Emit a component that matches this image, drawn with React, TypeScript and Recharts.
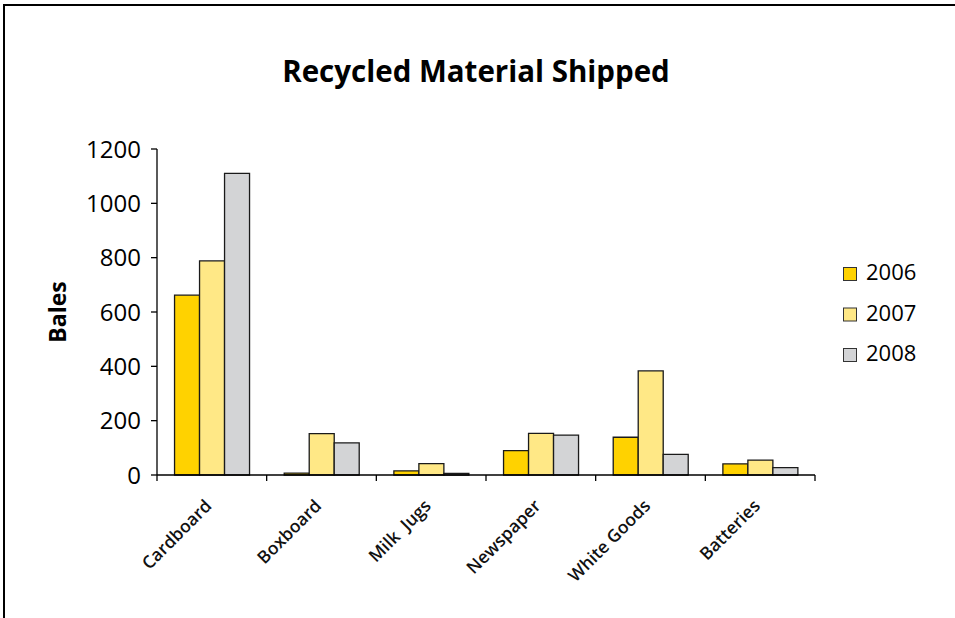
import { BarChart, Bar, XAxis, YAxis } from "recharts";

const categories = ["Cardboard", "Boxboard", "Milk  Jugs", "Newspaper", "White Goods", "Batteries"];
const bales2006 = [662, 7, 15, 90, 139, 41];
const bales2007 = [788, 152, 42, 153, 383, 55];
const bales2008 = [1110, 118, 6, 147, 76, 27];
const yTicks = [0, 200, 400, 600, 800, 1000, 1200];

const seriesList = [
  { key: "y2006", name: "2006", color: "#FFD200" },
  { key: "y2007", name: "2007", color: "#FFE886" },
  { key: "y2008", name: "2008", color: "#D3D4D6" },
];

const data = categories.map((name, i) => ({
  name,
  y2006: bales2006[i],
  y2007: bales2007[i],
  y2008: bales2008[i],
}));

const FONT = "'Open Sans', 'DejaVu Sans', sans-serif";
const CHART_W = 955;
const CHART_H = 618;
const margin = { top: 149, right: 140, bottom: 0, left: 37 };
const Y_AXIS_W = 120;
// fallback for half a category band if the tick payload has no offset
const bandHalf = (CHART_W - margin.left - margin.right - Y_AXIS_W) / categories.length / 2;

const CategoryTick = (props: any) => {
  const { x, y, payload, index } = props;
  const half = payload && payload.offset ? payload.offset : bandHalf;
  const last = index === categories.length - 1;
  const tx = x + 1;
  const ty = y + 32;
  return (
    <g>
      <line x1={x - half} x2={x - half} y1={y} y2={y + 6} stroke="#000" strokeWidth={1.3} />
      {last && <line x1={x + half} x2={x + half} y1={y} y2={y + 6} stroke="#000" strokeWidth={1.3} />}
      <text
        x={tx}
        y={ty}
        textAnchor="end"
        transform={`rotate(-45 ${tx} ${ty})`}
        fontFamily={FONT}
        fontSize={17.5}
        fontWeight={600}
        fill="#111"
        style={{ whiteSpace: "pre" }}
      >
        {payload.value}
      </text>
    </g>
  );
};

const BalesLabel = (props: any) => {
  const { viewBox } = props;
  const cx = viewBox.x + 20;
  const cy = viewBox.y + viewBox.height / 2;
  return (
    <text
      x={cx}
      y={cy}
      textAnchor="middle"
      dominantBaseline="central"
      transform={`rotate(-90 ${cx} ${cy})`}
      fontFamily={FONT}
      fontSize={23}
      fontWeight={700}
      fill="#000"
    >
      Bales
    </text>
  );
};

export default function App() {
  return (
    <div
      style={{
        position: "absolute",
        left: 0,
        top: 0,
        width: CHART_W,
        height: CHART_H,
        overflow: "hidden",
        background: "#fff",
        fontFamily: FONT,
      }}
    >
      <div
        style={{
          position: "absolute",
          left: 3,
          top: 4,
          width: 1000,
          height: 700,
          borderLeft: "2px solid #000",
          borderTop: "2px solid #000",
        }}
      />

      <div style={{ position: "absolute", left: 0, top: 0 }}>
        <BarChart
          width={CHART_W}
          height={CHART_H}
          data={data}
          margin={margin}
          barCategoryGap="16%"
          barGap={0}
        >
          <XAxis
            dataKey="name"
            interval={0}
            height={143}
            axisLine={{ stroke: "#000", strokeWidth: 1.3 }}
            tickLine={false}
            tickSize={0}
            tickMargin={0}
            tick={<CategoryTick />}
          />
          <YAxis
            domain={[0, 1200]}
            ticks={yTicks}
            width={Y_AXIS_W}
            axisLine={{ stroke: "#000", strokeWidth: 1.3 }}
            tickLine={{ stroke: "#000", strokeWidth: 1.3 }}
            tickSize={6}
            tickMargin={10}
            tick={{ fontFamily: FONT, fontSize: 24, fill: "#000" }}
            label={<BalesLabel />}
          />
          {seriesList.map((s) => (
            <Bar
              key={s.key}
              dataKey={s.key}
              name={s.name}
              fill={s.color}
              stroke="#1a1a1a"
              strokeWidth={1.3}
              isAnimationActive={false}
            />
          ))}
        </BarChart>
      </div>

      <svg
        width={CHART_W}
        height={CHART_H}
        style={{ position: "absolute", left: 0, top: 0, pointerEvents: "none" }}
      >
        <text
          x={476}
          y={82}
          textAnchor="middle"
          fontFamily={FONT}
          fontSize={29.5}
          fontWeight={700}
          fill="#000"
        >
          Recycled Material Shipped
        </text>
        {seriesList.map((s, i) => (
          <g key={s.key}>
            <rect
              x={843.5}
              y={267.5 + i * 40.5}
              width={13}
              height={13}
              fill={s.color}
              stroke="#333"
              strokeWidth={1}
            />
            <text x={866} y={280 + i * 40.5} fontFamily={FONT} fontSize={22} fill="#000">
              {s.name}
            </text>
          </g>
        ))}
      </svg>
    </div>
  );
}
